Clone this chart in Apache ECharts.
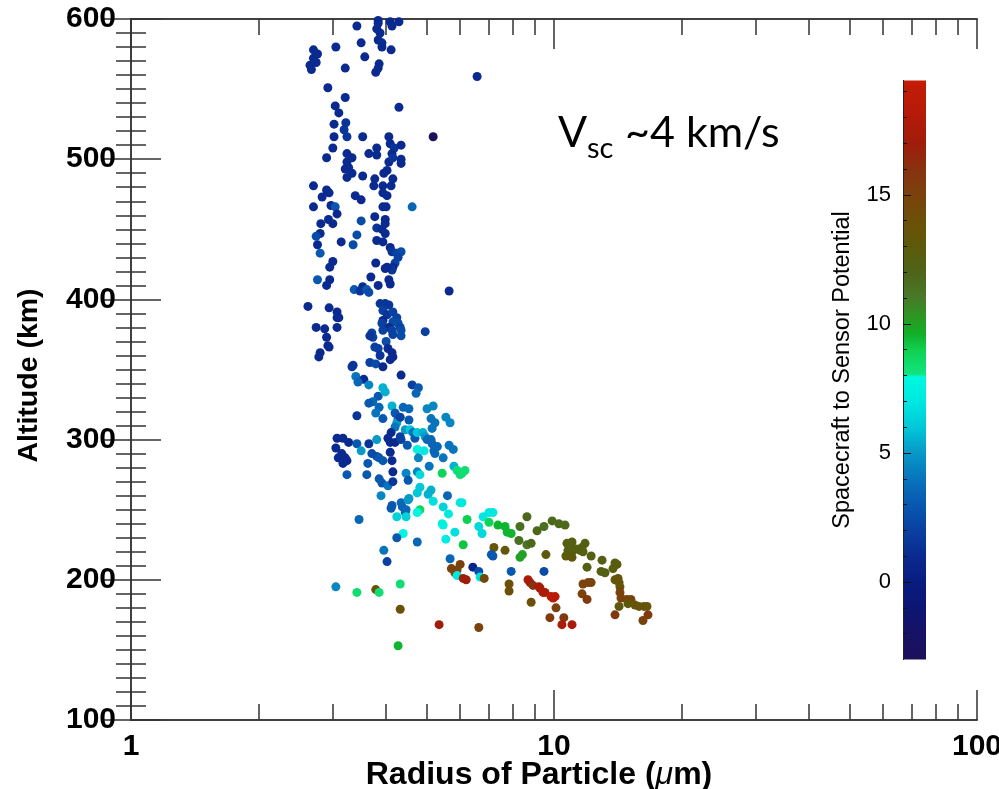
<!DOCTYPE html>
<html>
<head>
<meta charset="utf-8">
<script src="https://cdn.jsdelivr.net/npm/echarts@6/dist/echarts.min.js"></script>
<style>
  html, body { margin: 0; padding: 0; background: #ffffff; }
  #chart { width: 999px; height: 789px; }
</style>
</head>
<body>
<div id="chart"></div>
<script>
// Each point: [radius (um), altitude (km), spacecraft-to-sensor potential]
const band600to470 = [
  [3.42,595,1],
  [3.84,599,1],[3.84,597,1],[3.81,593,1],[3.88,590,1],[3.84,585,1],[3.92,583,1.2],[3.92,580,1],[4.10,598,1],[4.14,595,1],[4.30,598,1],
  [3.50,583,1],[4.12,578,1],
  [2.70,578,1],[2.76,575,1],[2.70,572,1],[2.74,569,1],[2.65,567,1],[2.67,564,1],
  [3.05,580,1],[3.57,573,1],
  [3.86,568,1],[3.84,565,1],[3.79,562,1],
  [3.21,565,1],[6.58,559,1],[2.92,551,1],[3.21,544,1],[4.30,537,1],
  [3.04,538,1],[3.10,533,1],
  [3.02,525,1],[3.22,526,1.5],[3.19,521,1.5],[3.24,516,1.5],
  [3.02,516,1],[3.53,516,1],[5.18,516,-3],[3.00,508,1],[2.90,501,1],
  [3.24,504,1],[3.33,501,1],[3.24,498,1],[3.27,494,1],[3.21,493,1],[3.33,490,1],[3.24,487,1],
  [3.65,504,1],[3.81,508,1],[3.81,503,1],
  [4.07,516,1],[4.10,511,1],[4.19,508,1.5],[4.14,504,1],[4.07,498,1],[4.16,501,1.5],[4.35,510,1],[4.35,500,1],[4.35,497,1],
  [4.03,492,1],[3.96,490,1],[4.16,486,1],[3.77,486,1],[3.75,481,1],[3.94,481,1],[4.12,481,1],[3.94,476,1],[4.03,474,1],
  [3.53,488,1],[2.70,481,1],
  [2.90,478,1],[2.94,476,1],[2.83,473,1],
  [3.39,474,1],[3.50,471,1]
];

const band470to340 = [
  [2.70,466,1],[2.97,467,1],[3.04,466,3],[3.94,466,1],[4.01,466,1],[4.62,466,3.5],[3.07,461,1],
  [2.81,454,1],[2.93,457,1],[3.00,454,1],[3.50,456,2.5],[3.77,459,1],
  [3.99,457,1],[3.99,454,1],[3.81,451,1.5],[3.92,450,1],[3.99,447,1],
  [2.80,447,1],[2.74,445,2.5],[3.42,446,2.5],[2.76,439,1],[3.14,441,1],[3.35,439,2.5],
  [3.81,442,1],[3.94,441,1],
  [4.10,437,1],[4.14,434,1.5],[4.25,433,2],[4.35,434,2.5],[4.28,430,2],[4.21,426,2],[4.16,423,1],[4.14,421,1.5],[4.03,423,1],[3.99,422,1],
  [2.80,433,3],[3.00,427,1],[2.95,423,1],[3.79,426,1],
  [2.76,414,3],[2.95,414,1],[2.90,410,1],[4.07,414,1],[4.10,411,1],[3.69,416,1],[3.84,410,1],
  [3.37,407,3],[3.53,409,1],[3.48,406,1.5],[3.61,407,3],[3.65,405,2.5],
  [5.65,406,1],[2.62,395,1],[2.94,394,1],
  [3.07,391,1],[3.07,387,1],[3.10,387,1],
  [3.88,397,1.5],[3.99,397,1.5],[4.07,396,1.5],[3.94,392,2],[4.03,389,1.5],[4.16,391,2],[4.25,387,2],[3.94,385,1],[3.92,383,2],
  [4.16,384,2.5],[4.28,383,2.5],[4.33,380,2],[4.35,378,2.5],[4.35,374,2.5],[4.07,380,1],[4.14,378,2],[3.94,378,2],
  [2.74,380,1],[2.87,379,1],[3.07,380,1],[4.96,377,2],
  [3.71,376,2],[3.73,373,2],[3.67,374,1.5],[4.16,375,2],
  [2.90,373,1],[2.92,367,1],[2.94,366,1],[4.01,370,2.5],
  [3.77,366,2],[3.84,365,2],[3.88,360,1.5],[4.05,365,1],[4.14,362,1],[4.16,359,1],[4.10,357,1],
  [2.80,362,1],[2.78,359,1],
  [3.67,355,2],[3.79,354,2.5],[3.94,352,1],
  [3.35,353,1.5],[3.33,352,1.5],[3.40,345,4],[3.55,343,1],[4.35,346,1]
];

const band340to225 = [
  [3.44,341,3.5],[3.65,339,4.5],
  [4.62,339,2],[4.78,337,3],[4.72,333,3.5],
  [3.84,331,3],[3.73,327,3.5],[3.65,326,3],[3.86,323,3.5],[3.79,319,4],
  [3.94,337,5.5],[3.99,334,5.5],[3.42,317,1.5],[3.94,315,3],[4.14,324,5.5],
  [4.21,319,3],[4.28,315,3],[4.25,312,5],[4.21,309,4],[4.33,316,2],
  [4.40,323,3.5],[4.54,322,3.5],[5.01,322,4.5],[5.18,324,4.5],
  [5.12,315,4],[5.23,312,4],[5.15,308,4],[5.55,316,4.5],[5.68,312,4.5],
  [4.54,314,3],[4.45,307,5],[4.57,307,6],[4.64,305,4],[4.69,301,3],[4.75,305,6],[4.90,305,5.5],[4.96,302,5],[5.01,300,3.5],
  [4.12,305,1],[4.05,301,1],[4.10,298,1],[4.21,298,1],
  [4.33,302,2],[4.35,300,2],[4.50,296,3],[5.12,300,3.5],[5.15,297,3.5],
  [3.07,301,1],[3.17,301,1],[3.27,298,1],[3.05,294,1],[3.15,290,1],[3.09,287,1],[3.17,283,1],[3.24,285,1],[3.21,287,1],
  [3.42,297,3],[3.50,292,5],[3.65,297,1.5],[3.81,300,5],
  [3.71,290,2.5],[3.81,288,2.5],[3.86,287,3],[3.94,285,3],
  [4.10,291,1],[4.14,285,1],[4.75,293,7.5],[4.93,292,7],
  [5.20,292,3.5],[5.30,295,3.5],[5.23,290,3.5],[5.65,296,4],[5.78,293,4],
  [4.78,287,4.5],[5.47,287,4],[3.63,283,3],[4.16,277,1],[5.07,281,4],[5.80,281,5.5],
  [3.24,275,3],[3.61,275,3],
  [3.86,272,3],[3.92,269,3],[4.05,267,4],[4.16,270,1.5],
  [4.47,276,4.5],[4.52,271,3],[4.75,277,4.5],[4.82,275,6.5],[5.44,276,8.8],
  [5.90,278,8.3],[6.06,276,8.3],[6.16,278,8.3],[6.00,275,8.3],
  [3.90,260,4.5],[4.14,253,3],[4.12,251,3],
  [4.35,255,3.5],[4.38,252,3.5],[4.47,250,3.5],[4.45,248,3.5],
  [4.25,245,6.3],[4.47,245,6.3],[4.54,258,5],[4.52,257,5],
  [4.75,262,6],[4.82,266,6],[5.04,261,5.5],[5.12,264,5.5],
  [5.18,256,6.8],[5.60,260,3.5],[5.47,252,6.3],[6.00,255,7],[6.06,255,7],[5.63,247,7],
  [4.82,250,8.7],[4.75,248,7.8],[3.46,243,3.5],
  [5.44,240,7.5],[5.47,239,7.5],[6.23,243,9],[5.83,234,6.8],[5.55,229,7.2],[6.10,225,9.2],
  [4.40,233,7.8],[4.25,230,3],[4.75,227,3.5],
  [6.64,238,6.5],[6.76,233,6.5],[6.80,245,7],[7.02,248,7],[7.17,248,7],[7.02,241,8.8],
  [7.37,239,9.5],[7.66,238,9.5],[7.92,233,9.5],[7.75,234,9.5],
  [8.31,238,11.5],[8.63,245,11.8]
];

const band245to150 = [
  [9.90,242,11.8],[10.27,240,11.8],[10.62,239,11.8],[9.47,238,11.5],[9.12,235,11.8],
  [8.26,228,11.5],[8.63,225,11.2],[8.83,226,11.8],[7.21,223,13.5],[7.66,221,13.5],
  [10.73,226,12.5],[11.03,227,12.5],[10.91,223,12.5],[10.79,221,12.5],[11.03,220,12.5],
  [11.27,222,12.5],[11.52,221,12.5],[11.65,223,12.5],[11.84,226,12.5],[11.71,220,12.5],
  [10.67,217,13],[11.03,216,13],[12.24,217,12.5],[12.99,214,12.5],
  [13.94,212,12.8],[14.09,211,12.8],[13.79,208,12.8],[11.97,209,12.5],[9.57,218,13],
  [8.31,216,10],[8.42,218,10],[7.11,218,3],[7.17,217,3],[5.68,215,3.5],
  [6.00,211,15],[5.72,208,15],[5.83,205,15],[5.90,207,15],
  [6.43,209,0.5],[6.64,206,2.5],[5.90,203,7],[6.10,201,17],[6.20,200,17],[6.69,202,6.8],[6.84,201,14.5],
  [7.92,206,3],[9.47,206,2.5],[12.92,206,12.5],[13.20,205,12.5],
  [13.94,200,13.5],[14.17,201,13.5],[14.25,198,13.5],[14.32,195,13.5],
  [8.68,200,17.5],[8.78,198,17.5],[8.92,196,16],
  [9.22,195,17.5],[9.27,194,17.5],[9.42,191,17.5],[9.52,191,17.5],
  [9.84,188,18.5],[9.95,187,18.5],[10.06,188,18.5],
  [7.83,197,14],[7.83,192,14],[11.71,197,15],[12.04,198,15],[12.24,198,15],
  [11.65,190,15],[11.97,186,15.5],
  [14.32,191,15],[14.40,187,15],[14.88,186,15],[15.20,186,15],[14.96,183,13],
  [15.54,182,13.5],[15.88,181,13.5],[16.32,181,13.5],[16.59,181,13.5],[14.25,181,13],
  [10.11,180,15],[8.83,184,14],[16.68,175,15.5],[13.94,175,15.5],[16.23,171,15],
  [9.78,173,15.5],[10.55,173,15.5],[10.44,168,17.5],[11.03,168,17.5],
  [5.35,168,17],[6.64,166,15]
];

const lowSmallParticles = [
  [3.96,221,4],[4.03,213,2],[3.05,195,4.5],[3.42,191,8.3],[3.79,193,14],
  [3.86,191,8.3],[4.33,197,8.3],[4.33,179,14],[4.28,153,9.5]
];

// Axis ticks
const altitudeRange = [100, 600];
const radiusRange = [1, 100];
const radiusMinorTicks = [2, 3, 4, 5, 6, 7, 8, 9, 20, 30, 40, 50, 60, 70, 80, 90];
const potentialRange = [-3, 19.43];
const potentialMajorTicks = [0, 5, 10, 15];
const potentialMinorTicks = [-2, -1, 1, 2, 3, 4, 6, 7, 8, 9, 11, 12, 13, 14, 16, 17, 18, 19];

// Colour table for the potential scale
const potentialColours = [
  [-3, '#1e105a'], [-2, '#161266'], [-1, '#0c1672'], [0, '#081c80'],
  [1, '#0a2a90'], [2, '#0a40a0'], [3, '#0858b0'], [4, '#0874bc'],
  [5, '#0898c8'], [6, '#00c8d8'], [7, '#00e8e0'], [7.95, '#00f8e0'],
  [8.05, '#10e480'], [9, '#10d050'], [9.6, '#10b028'], [10.2, '#2a9a22'],
  [11, '#487a28'], [12, '#4e6418'], [13, '#5c5a0a'], [14, '#6c5008'],
  [15, '#7a420c'], [16, '#883210'], [17, '#a01c0a'], [18, '#b41a08'],
  [19.43, '#c41c08']
];

const FONT = '"Liberation Sans", Arial, Helvetica, sans-serif';
const TITLE_FONT = 'Lato, "Open Sans", sans-serif';
const AXIS_LINE = '#404040';
const TICK = '#333333';

function hexToRgb(h) {
  return [parseInt(h.slice(1, 3), 16), parseInt(h.slice(3, 5), 16), parseInt(h.slice(5, 7), 16)];
}
function colourAt(v) {
  const t = potentialColours;
  if (v <= t[0][0]) return t[0][1];
  for (let i = 1; i < t.length; i++) {
    if (v <= t[i][0]) {
      const f = (v - t[i - 1][0]) / (t[i][0] - t[i - 1][0]);
      const a = hexToRgb(t[i - 1][1]), b = hexToRgb(t[i][1]);
      const c = a.map((x, k) => Math.round(x + (b[k] - x) * f));
      return 'rgb(' + c.join(',') + ')';
    }
  }
  return t[t.length - 1][1];
}
const [PMIN, PMAX] = potentialRange;
const visualColours = [];
for (let i = 0; i <= 448; i++) visualColours.push(colourAt(PMIN + i * (PMAX - PMIN) / 448));
const barStops = potentialColours.map(([v, c]) => ({ offset: (v - PMIN) / (PMAX - PMIN), color: c }));

const points = [].concat(band600to470, band470to340, band340to225, band245to150, lowSmallParticles);

const tickStyle = { color: TICK, width: 1.5 };
const boldLabel = { fontFamily: FONT, fontWeight: 'bold', fontSize: 30, color: '#000' };

const chart = echarts.init(document.getElementById('chart'), null, { renderer: 'canvas' });
chart.setOption({
  animation: false,
  backgroundColor: '#ffffff',
  grid: [
    { left: 131, top: 19, width: 846, height: 701, containLabel: false, outerBoundsMode: 'none' },
    { left: 903, top: 80.5, width: 23, height: 579, containLabel: false, outerBoundsMode: 'none' }
  ],
  xAxis: [
    {
      type: 'log', logBase: 10, gridIndex: 0, position: 'bottom',
      min: radiusRange[0], max: radiusRange[1],
      axisLine: { show: true, lineStyle: { color: AXIS_LINE, width: 2 } },
      axisTick: { show: true, inside: true, length: 30, lineStyle: tickStyle },
      axisLabel: Object.assign({ margin: 12 }, boldLabel),
      splitLine: { show: false }, minorTick: { show: false },
      name: '{a|Radius of Particle (}{b|μ}{a|m)}',
      nameLocation: 'middle', nameGap: 39, nameMoveOverlap: false,
      nameTextStyle: {
        padding: [0, 30, 0, 0],
        rich: {
          a: { fontFamily: FONT, fontWeight: 'bold', fontSize: 32, color: '#000' },
          b: { fontFamily: FONT, fontStyle: 'italic', fontSize: 32, color: '#000' }
        }
      }
    },
    {
      type: 'log', logBase: 10, gridIndex: 0, position: 'top',
      min: radiusRange[0], max: radiusRange[1],
      axisLine: { show: true, lineStyle: { color: AXIS_LINE, width: 2 } },
      axisTick: { show: true, inside: true, length: 30, lineStyle: tickStyle },
      axisLabel: { show: false }, splitLine: { show: false }
    },
    {
      type: 'value', gridIndex: 0, position: 'bottom', min: 0, max: 2,
      axisLine: { show: false },
      axisTick: { show: true, inside: true, length: 16, lineStyle: tickStyle,
        customValues: radiusMinorTicks.map(Math.log10) },
      axisLabel: { show: false }, splitLine: { show: false }
    },
    {
      type: 'value', gridIndex: 0, position: 'top', min: 0, max: 2,
      axisLine: { show: false },
      axisTick: { show: true, inside: true, length: 16, lineStyle: tickStyle,
        customValues: radiusMinorTicks.map(Math.log10) },
      axisLabel: { show: false }, splitLine: { show: false }
    },
    { type: 'value', gridIndex: 1, min: 0, max: 1, show: false }
  ],
  yAxis: [
    {
      type: 'value', gridIndex: 0, position: 'left',
      min: altitudeRange[0], max: altitudeRange[1], interval: 100,
      axisLine: { show: true, lineStyle: { color: AXIS_LINE, width: 2 } },
      axisTick: { show: true, inside: true, length: 30, lineStyle: tickStyle },
      minorTick: { show: true, splitNumber: 10, length: 15, lineStyle: tickStyle },
      axisLabel: Object.assign({ margin: 15 }, boldLabel),
      splitLine: { show: false },
      name: 'Altitude (km)', nameLocation: 'middle', nameRotate: 90, nameGap: 87, nameMoveOverlap: false,
      nameTextStyle: { fontFamily: FONT, fontWeight: 'bold', fontSize: 28.5, color: '#000', padding: [0, 12, 0, 0] }
    },
    {
      type: 'value', gridIndex: 0, position: 'right',
      min: altitudeRange[0], max: altitudeRange[1], interval: 100,
      axisLine: { show: true, lineStyle: { color: AXIS_LINE, width: 2 } },
      axisTick: { show: true, inside: true, length: 30, lineStyle: tickStyle },
      minorTick: { show: true, splitNumber: 10, length: 15, lineStyle: tickStyle },
      axisLabel: { show: false }, splitLine: { show: false }
    },
    {
      type: 'value', gridIndex: 1, position: 'left', z: 5,
      min: potentialRange[0], max: potentialRange[1],
      axisLine: { show: true, lineStyle: { color: '#222', width: 1 } },
      axisTick: { show: true, inside: true, length: 8, lineStyle: { color: '#111', width: 1 },
        customValues: potentialMajorTicks },
      axisLabel: { show: true, margin: 12, fontFamily: FONT, fontSize: 22, color: '#000',
        customValues: potentialMajorTicks },
      splitLine: { show: false },
      name: 'Spacecraft to Sensor Potential', nameLocation: 'middle', nameRotate: 90, nameGap: 48, nameMoveOverlap: false,
      nameTextStyle: { fontFamily: FONT, fontSize: 23.5, color: '#000' }
    },
    {
      type: 'value', gridIndex: 1, position: 'left', z: 5,
      min: potentialRange[0], max: potentialRange[1],
      axisLine: { show: false },
      axisTick: { show: true, inside: true, length: 4, lineStyle: { color: '#111', width: 1 },
        customValues: potentialMinorTicks },
      axisLabel: { show: false }, splitLine: { show: false }
    }
  ],
  visualMap: {
    show: false, type: 'continuous', seriesIndex: 0, dimension: 2,
    min: potentialRange[0], max: potentialRange[1],
    inRange: { color: visualColours }
  },
  series: [
    {
      type: 'scatter', xAxisIndex: 0, yAxisIndex: 0,
      data: points, symbol: 'circle', symbolSize: 9,
      itemStyle: { opacity: 1 }, silent: true, z: 3
    },
    {
      type: 'custom', xAxisIndex: 4, yAxisIndex: 2, silent: true, z: 1,
      data: [[0, potentialRange[0], 1, potentialRange[1]]],
      encode: { x: [0, 2], y: [1, 3] },
      renderItem: function (params, api) {
        const p0 = api.coord([api.value(0), api.value(1)]);
        const p1 = api.coord([api.value(2), api.value(3)]);
        return {
          type: 'rect',
          shape: { x: p0[0], y: p1[1], width: p1[0] - p0[0], height: p0[1] - p1[1] },
          style: { fill: new echarts.graphic.LinearGradient(0, 1, 0, 0, barStops) }
        };
      }
    }
  ],
  graphic: [
    { type: 'text', x: 558, y: 133, style: { text: 'V', font: '43px ' + TITLE_FONT, fill: '#000', align: 'left', verticalAlign: 'middle' } },
    { type: 'text', x: 587, y: 149, style: { text: 'sc', font: '29px ' + TITLE_FONT, fill: '#000', align: 'left', verticalAlign: 'middle' } },
    { type: 'text', x: 625, y: 133, style: { text: '~4 km/s', font: '43px ' + TITLE_FONT, fill: '#000', align: 'left', verticalAlign: 'middle' } }
  ]
});
</script>
</body>
</html>
